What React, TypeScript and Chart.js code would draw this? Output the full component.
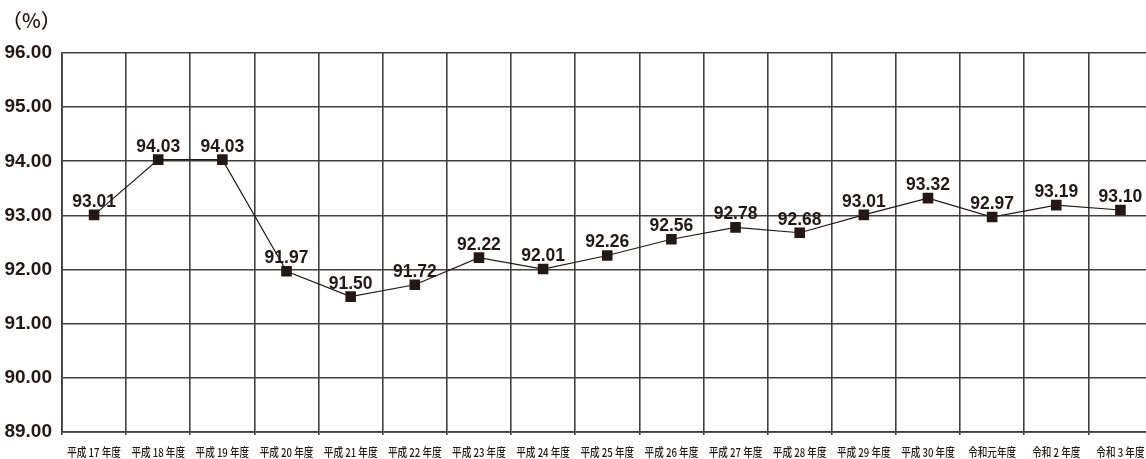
import React, { useEffect, useRef } from "react";
import { Chart, registerables } from "chart.js";

Chart.register(...registerables);

const categories = [
  "平成 17 年度", "平成 18 年度", "平成 19 年度", "平成 20 年度", "平成 21 年度",
  "平成 22 年度", "平成 23 年度", "平成 24 年度", "平成 25 年度", "平成 26 年度",
  "平成 27 年度", "平成 28 年度", "平成 29 年度", "平成 30 年度", "令和元年度",
  "令和 2 年度", "令和 3 年度",
];

const rates = [
  93.01, 94.03, 94.03, 91.97, 91.5, 91.72, 92.22, 92.01, 92.26,
  92.56, 92.78, 92.68, 93.01, 93.32, 92.97, 93.19, 93.1,
];

const yMin = 89;
const yMax = 96;
const unitLabel = "（%）";

const NUM_FONT = '"Liberation Sans", Arial, sans-serif';
const JP_FONT = '"Noto Sans CJK JP", sans-serif';
const INK = "#231815";
const GRID = "#404040";

// value printed above each marker
const valueLabels = {
  id: "valueLabels",
  afterDatasetsDraw(chart: any) {
    const { ctx } = chart;
    const meta = chart.getDatasetMeta(0);
    ctx.save();
    ctx.font = `bold 17.5px ${NUM_FONT}`;
    ctx.fillStyle = INK;
    ctx.textAlign = "center";
    ctx.textBaseline = "alphabetic";
    meta.data.forEach((pt: any, i: number) => {
      ctx.fillText(rates[i].toFixed(2), pt.x, pt.y - 8);
    });
    ctx.restore();
  },
};

// category labels under the axis, set in a narrowed face
const categoryLabels = {
  id: "categoryLabels",
  afterDraw(chart: any) {
    const { ctx } = chart;
    const xScale = chart.scales.x;
    const squeeze = 0.8;
    ctx.save();
    ctx.font = `500 12px ${JP_FONT}`;
    ctx.fillStyle = INK;
    ctx.textAlign = "center";
    ctx.textBaseline = "middle";
    xScale.ticks.forEach((_t: any, i: number) => {
      const x = xScale.getPixelForTick(i);
      const y = xScale.top + 20;
      ctx.save();
      ctx.translate(x, y);
      ctx.scale(squeeze, 1);
      ctx.fillText(String(categories[i]), 0, 0);
      ctx.restore();
    });
    ctx.restore();
  },
};

const unitTitle = {
  id: "unitTitle",
  afterDraw(chart: any) {
    const { ctx } = chart;
    ctx.save();
    ctx.font = `500 20px ${JP_FONT}`;
    ctx.fillStyle = INK;
    ctx.textAlign = "left";
    ctx.textBaseline = "middle";
    ctx.fillText(unitLabel, 2, 20);
    ctx.restore();
  },
};

export default function App() {
  const canvasRef = useRef<HTMLCanvasElement | null>(null);

  useEffect(() => {
    const canvas = canvasRef.current;
    if (!canvas) return;
    const chart = new Chart(canvas, {
      type: "line",
      data: {
        labels: categories,
        datasets: [
          {
            data: rates,
            borderColor: INK,
            borderWidth: 1.2,
            backgroundColor: INK,
            pointStyle: "rect",
            pointRadius: 7.5,
            pointBorderWidth: 0,
            pointBackgroundColor: INK,
            tension: 0,
            fill: false,
          },
        ],
      },
      options: {
        responsive: false,
        devicePixelRatio: 1,
        animation: false,
        events: [],
        layout: { padding: { top: 53, right: 6, left: 0, bottom: 0 } },
        plugins: {
          legend: { display: false },
          tooltip: { enabled: false },
          title: { display: false },
        },
        scales: {
          x: {
            type: "category",
            offset: true,
            grid: {
              offset: true,
              color: GRID,
              lineWidth: 1.6,
              drawTicks: true,
              tickLength: 3,
            },
            border: { color: GRID, width: 1.8 },
            ticks: { display: false, autoSkip: false },
            afterFit(scale: any) {
              scale.height = 27;
            },
          },
          y: {
            min: yMin,
            max: yMax,
            ticks: {
              stepSize: 1,
              color: INK,
              font: { family: NUM_FONT, size: 19, weight: "bold" },
              padding: 10,
              callback: (v: any) => Number(v).toFixed(2),
            },
            grid: { color: GRID, lineWidth: 1.6, drawTicks: false },
            border: { color: GRID, width: 1.8 },
            afterFit(scale: any) {
              scale.width = 62;
            },
          },
        },
      },
      plugins: [valueLabels, categoryLabels, unitTitle],
    });
    return () => chart.destroy();
  }, []);

  return (
    <div
      style={{
        position: "fixed",
        left: 0,
        top: 0,
        width: 1146,
        height: 459,
        overflow: "hidden",
        background: "#fff",
      }}
    >
      <canvas ref={canvasRef} width={1160} height={459} style={{ display: "block" }} />
    </div>
  );
}
